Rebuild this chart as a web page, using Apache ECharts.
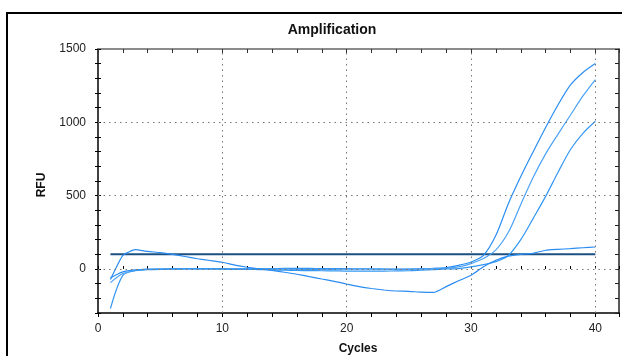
<!DOCTYPE html>
<html>
<head>
<meta charset="utf-8">
<script src="https://cdn.jsdelivr.net/npm/echarts@6/dist/echarts.min.js"></script>
<style>
html,body{margin:0;padding:0;background:#fff;}
#chart{width:622px;height:356px;}
</style>
</head>
<body>
<div id="chart"></div>
<script>
var cycles = [1,2,3,4,5,6,7,8,9,10,11,12,13,14,15,16,17,18,19,20,21,22,23,24,25,26,27,28,29,30,31,32,33,34,35,36,37,38,39,40];

var wellA = [-61,-20,-6,-2,0,2,3,3,2,2,1,1,2,3,4,4,4,3,3,2,1,0,-1,-2,-1,2,5,10,25,48,93,230,445,630,800,965,1120,1255,1340,1401];
var wellB = [-93,-31,-10,-1,0,0,1,0,0,-1,-2,0,1,0,-1,-2,-2,-3,-2,-1,0,1,0,-1,0,1,2,5,14,37,71,130,250,440,625,785,920,1050,1180,1292];
var wellC = [-270,-43,-12,-5,-2,-1,0,1,1,0,-1,-2,-4,-6,-8,-10,-11,-12,-13,-14,-14,-15,-14,-13,-12,-8,-4,0,3,14,30,50,92,200,345,495,660,815,925,1007];
var wellD = [-72,93,132,120,112,100,85,70,58,46,27,12,0,-10,-22,-36,-52,-68,-84,-103,-120,-133,-143,-150,-152,-158,-160,-120,-80,-43,15,60,88,100,107,128,134,139,145,150];

var thresholdValue = 100;
var thresholdCycles = [1, 40];

var xTickLabels = [0, 10, 20, 30, 40];
var yTickLabels = [0, 500, 1000, 1500];
var xGridValues = [10, 20, 30, 40];
var yGridValues = [0, 500, 1000];

var FONT = 'Liberation Sans, Arial, sans-serif';

function pairs(ys) { return cycles.map(function (c, i) { return [c, ys[i]]; }); }

var chart = echarts.init(document.getElementById('chart'), null, {renderer: 'canvas'});

var gridMarks = xGridValues.map(function (v) { return {xAxis: v}; })
  .concat(yGridValues.map(function (v) { return {yAxis: v}; }));

function curve(name, data, color, smooth) {
  return {
    name: name, type: 'line', data: pairs(data), showSymbol: false, symbol: 'none',
    smooth: smooth, lineStyle: {color: color, width: 1.2}, z: 3, silent: true
  };
}

var option = {
  animation: false,
  backgroundColor: '#fff',
  grid: {left: 98, right: 1, top: 49, bottom: 43, containLabel: false},
  xAxis: [
    {
      type: 'value', min: 0, max: 41.9, interval: 2, position: 'bottom',
      axisLine: {show: true, onZero: false, lineStyle: {color: '#000', width: 1.5}},
      axisTick: {show: true, inside: false, length: 4, lineStyle: {color: '#000'}},
      axisLabel: {
        margin: 10, fontFamily: FONT, fontSize: 12, color: '#222',
        formatter: function (v) { return xTickLabels.indexOf(v) >= 0 ? String(v) : ''; }
      },
      splitLine: {show: false}
    },
    {
      type: 'value', min: 0, max: 41.9, interval: 2, position: 'bottom',
      axisLine: {show: false},
      axisTick: {show: true, inside: true, length: 3, lineStyle: {color: '#000'}},
      axisLabel: {show: false}, splitLine: {show: false}
    },
    {
      type: 'value', min: 0, max: 41.9, interval: 2, position: 'top',
      axisLine: {show: true, onZero: false, lineStyle: {color: '#666', width: 1.5}},
      axisTick: {show: true, inside: true, length: 4, lineStyle: {color: '#333'}},
      axisLabel: {show: false}, splitLine: {show: false}
    }
  ],
  yAxis: [
    {
      type: 'value', min: -300, max: 1500, interval: 100, position: 'left',
      axisLine: {show: true, onZero: false, lineStyle: {color: '#000', width: 1.5}},
      axisTick: {show: true, inside: false, length: 3, lineStyle: {color: '#000'}},
      axisLabel: {
        margin: 12, fontFamily: FONT, fontSize: 12, color: '#222',
        formatter: function (v) { return yTickLabels.indexOf(v) >= 0 ? String(v) : ''; }
      },
      splitLine: {show: false}
    },
    {
      type: 'value', min: -300, max: 1500, interval: 100, position: 'left',
      axisLine: {show: false},
      axisTick: {show: true, inside: true, length: 3, lineStyle: {color: '#000'}},
      axisLabel: {show: false}, splitLine: {show: false}
    },
    {
      type: 'value', min: -300, max: 1500, interval: 100, position: 'right',
      axisLine: {show: true, onZero: false, lineStyle: {color: '#222', width: 1.5}},
      axisTick: {show: true, inside: true, length: 4, lineStyle: {color: '#222'}},
      axisLabel: {show: false}, splitLine: {show: false}
    }
  ],
  series: [
    {
      name: 'grid', type: 'line', data: [], silent: true, z: 1,
      markLine: {
        silent: true, symbol: ['none', 'none'], animation: false,
        label: {show: false},
        lineStyle: {color: '#777', width: 1, type: [1.5, 4]},
        emphasis: {disabled: true},
        data: gridMarks
      }
    },
    {
      name: 'Threshold', type: 'line', showSymbol: false, symbol: 'none', silent: true, z: 2,
      data: thresholdCycles.map(function (c) { return [c, thresholdValue]; }),
      lineStyle: {color: '#1c4f82', width: 2}
    },
    curve('A', wellA, '#2a8ef2', 0.3),
    curve('B', wellB, '#4aa2f6', 0.3),
    curve('C', wellC, '#3597f4', 0.3),
    curve('D', wellD, '#2a8cf2', 0.15)
  ],
  graphic: [
    {
      type: 'rect', silent: true, z: 100,
      shape: {x: 7, y: 13, width: 700, height: 400},
      style: {fill: 'none', stroke: '#000', lineWidth: 2}
    },
    {
      type: 'text', silent: true, x: 332, y: 30,
      style: {text: 'Amplification', font: 'bold 14px ' + FONT, fill: '#111', textAlign: 'center', textVerticalAlign: 'middle'}
    },
    {
      type: 'text', silent: true, x: 42, y: 185, rotation: Math.PI / 2,
      style: {text: 'RFU', font: 'bold 12px ' + FONT, fill: '#111', textAlign: 'center', textVerticalAlign: 'middle'}
    },
    {
      type: 'text', silent: true, x: 358, y: 349,
      style: {text: 'Cycles', font: 'bold 12px ' + FONT, fill: '#111', textAlign: 'center', textVerticalAlign: 'middle'}
    }
  ]
};

chart.setOption(option);
</script>
</body>
</html>
